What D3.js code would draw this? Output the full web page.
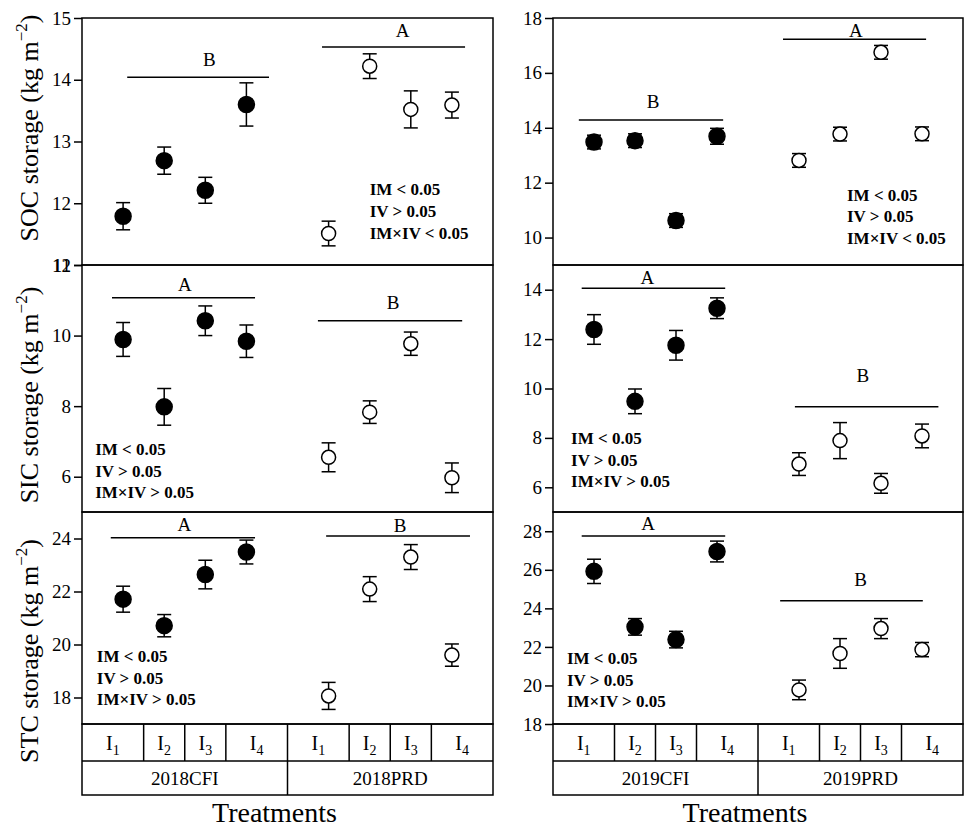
<!DOCTYPE html>
<html>
<head>
<meta charset="utf-8">
<script src="https://cdn.jsdelivr.net/npm/d3@7/dist/d3.min.js"></script>
<style>
  body { margin: 0; background: #fff; }
  svg text { font-family: "Liberation Serif", "Times New Roman", serif; fill: #000; }
</style>
</head>
<body>
<svg id="chart" width="965" height="830"></svg>
<script>
// treatments and groups
const levels = ["1", "2", "3", "4"];
const groups2018 = ["2018CFI", "2018PRD"];
const groups2019 = ["2019CFI", "2019PRD"];

// means and errors, CFI I1-I4 then PRD I1-I4
const soc2018 = [11.79, 12.69, 12.21, 13.60, 11.51, 14.22, 13.52, 13.59];
const soc2018Err = [0.22, 0.22, 0.21, 0.35, 0.20, 0.20, 0.30, 0.21];
const soc2019 = [13.48, 13.53, 10.62, 13.69, 12.81, 13.77, 16.75, 13.78];
const soc2019Err = [0.25, 0.25, 0.25, 0.29, 0.25, 0.25, 0.25, 0.25];

const sic2018 = [9.89, 7.98, 10.42, 9.84, 6.55, 7.83, 9.77, 5.97];
const sic2018Err = [0.48, 0.52, 0.42, 0.46, 0.41, 0.32, 0.33, 0.42];
const sic2019 = [12.39, 9.48, 11.75, 13.25, 6.94, 7.89, 6.16, 8.08];
const sic2019Err = [0.60, 0.50, 0.60, 0.42, 0.46, 0.73, 0.40, 0.48];

const stc2018 = [21.71, 20.71, 22.64, 23.49, 18.06, 22.09, 23.30, 19.60];
const stc2018Err = [0.49, 0.42, 0.54, 0.45, 0.51, 0.47, 0.47, 0.42];
const stc2019 = [25.92, 23.04, 22.38, 26.95, 19.77, 21.66, 22.95, 21.86];
const stc2019Err = [0.63, 0.43, 0.43, 0.54, 0.51, 0.77, 0.52, 0.37];

// axis ticks
const socTicks2018 = [11, 12, 13, 14, 15];
const socTicks2019 = [10, 12, 14, 16, 18];
const sicTicks2018 = [6, 8, 10, 12];
const sicTicks2019 = [6, 8, 10, 12, 14];
const stcTicks2018 = [18, 20, 22, 24];
const stcTicks2019 = [18, 20, 22, 24, 26, 28];

// significance letters
const letters2018 = { soc: ["B", "A"], sic: ["A", "B"], stc: ["A", "B"] };
const letters2019 = { soc: ["B", "A"], sic: ["A", "B"], stc: ["A", "B"] };

// p value statements
const statsSoc = ["IM < 0.05", "IV > 0.05", "IM\u00d7IV < 0.05"];
const statsSic = ["IM < 0.05", "IV > 0.05", "IM\u00d7IV > 0.05"];
const statsStc = ["IM < 0.05", "IV > 0.05", "IM\u00d7IV > 0.05"];

const catPos = [1, 2, 3, 4, 6, 7, 8, 9];

const svg = d3.select("#chart");

const cols = [
  { x0: 82, x1: 493, groups: groups2018 },
  { x0: 553, x1: 963, groups: groups2019 }
];
const rows = [
  { y0: 18, y1: 265, title: "SOC", ty: 128 },
  { y0: 265, y1: 512, title: "SIC", ty: 395 },
  { y0: 512, y1: 724, title: "STC", ty: 651 }
];

// sig: [xStart, xEnd, yLine, xLetter, yLetter]
const panels = [
  { c: 0, r: 0, mean: soc2018, err: soc2018Err, dom: [11, 15], ticks: socTicks2018, lett: letters2018.soc,
    sig: [[1.1, 4.55, 14.04, 3.1, 14.22], [5.84, 9.32, 14.53, 7.8, 14.69]], stats: statsSoc, st: [7.0, 12.13] },
  { c: 1, r: 0, mean: soc2019, err: soc2019Err, dom: [9, 18], ticks: socTicks2019, lett: letters2019.soc,
    sig: [[0.63, 4.15, 14.28, 2.44, 14.73], [5.61, 9.1, 17.23, 7.39, 17.31]], stats: statsSoc, st: [7.17, 11.35] },
  { c: 0, r: 1, mean: sic2018, err: sic2018Err, dom: [5, 12], ticks: sicTicks2018, lett: letters2018.sic,
    sig: [[0.73, 4.21, 11.07, 2.5, 11.27], [5.74, 9.25, 10.42, 7.57, 10.75]], stats: statsSic, st: [0.32, 6.62] },
  { c: 1, r: 1, mean: sic2019, err: sic2019Err, dom: [5, 15], ticks: sicTicks2019, lett: letters2019.sic,
    sig: [[0.7, 4.2, 14.06, 2.3, 14.24], [5.9, 9.4, 9.26, 7.56, 10.26]], stats: statsSic, st: [0.44, 7.75] },
  { c: 0, r: 2, mean: stc2018, err: stc2018Err, dom: [17, 25], ticks: stcTicks2018, lett: letters2018.stc,
    sig: [[0.7, 4.21, 24.03, 2.49, 24.28], [5.94, 9.44, 24.09, 7.74, 24.26]], stats: statsStc, st: [0.36, 19.34] },
  { c: 1, r: 2, mean: stc2019, err: stc2019Err, dom: [18, 29], ticks: stcTicks2019, lett: letters2019.stc,
    sig: [[0.7, 4.2, 27.76, 2.32, 28.07], [5.54, 9.02, 24.39, 7.5, 25.16]], stats: statsStc, st: [0.34, 21.11] }
];

panels.forEach(p => {
  const col = cols[p.c], row = rows[p.r];
  const x = d3.scaleLinear().domain([0, 10]).range([col.x0, col.x1]);
  const y = d3.scaleLinear().domain(p.dom).range([row.y1, row.y0]);
  const g = svg.append("g");

  g.append("rect")
    .attr("x", col.x0).attr("y", row.y0)
    .attr("width", col.x1 - col.x0).attr("height", row.y1 - row.y0)
    .attr("fill", "none").attr("stroke", "#000").attr("stroke-width", 1.5);

  const ax = g.append("g")
    .attr("transform", "translate(" + col.x0 + ",0)")
    .call(d3.axisLeft(y).tickValues(p.ticks).tickSize(8).tickPadding(3).tickFormat(d3.format("d")));
  ax.select(".domain").remove();
  ax.selectAll(".tick line").attr("stroke-width", 1.5);
  ax.selectAll(".tick text").style("font-size", "19px").style("font-family", "'Liberation Serif', serif");

  // significance bars
  p.sig.forEach((s, i) => {
    g.append("line")
      .attr("x1", x(s[0])).attr("x2", x(s[1]))
      .attr("y1", y(s[2])).attr("y2", y(s[2]))
      .attr("stroke", "#000").attr("stroke-width", 1.5);
    g.append("text")
      .attr("x", x(s[3])).attr("y", y(s[4]))
      .attr("text-anchor", "middle")
      .style("font-size", "19px")
      .text(p.lett[i]);
  });

  // error bars
  const eb = g.selectAll(".eb").data(p.mean).enter().append("g");
  eb.append("line")
    .attr("x1", (d, i) => x(catPos[i])).attr("x2", (d, i) => x(catPos[i]))
    .attr("y1", (d, i) => y(d - p.err[i])).attr("y2", (d, i) => y(d + p.err[i]))
    .attr("stroke", "#000").attr("stroke-width", 1.5);
  [-1, 1].forEach(sgn => {
    eb.append("line")
      .attr("x1", (d, i) => x(catPos[i]) - 7).attr("x2", (d, i) => x(catPos[i]) + 7)
      .attr("y1", (d, i) => y(d + sgn * p.err[i])).attr("y2", (d, i) => y(d + sgn * p.err[i]))
      .attr("stroke", "#000").attr("stroke-width", 1.5);
  });

  // points
  g.selectAll(".pt").data(p.mean).enter().append("circle")
    .attr("cx", (d, i) => x(catPos[i]))
    .attr("cy", d => y(d))
    .attr("r", (d, i) => i < 4 ? 8 : 7)
    .attr("fill", (d, i) => i < 4 ? "#000" : "#fff")
    .attr("stroke", "#000").attr("stroke-width", 1.5);

  // stats text
  const st = g.append("text")
    .attr("x", x(p.st[0])).attr("y", y(p.st[1]))
    .style("font-size", "17px").style("font-weight", "bold");
  p.stats.forEach((s, i) => {
    st.append("tspan").attr("x", x(p.st[0])).attr("dy", i === 0 ? 0 : 21.7).text(s);
  });

  // y title, left column only
  if (p.c === 0) {
    const t = svg.append("text")
      .attr("transform", "translate(38," + row.ty + ") rotate(-90)")
      .attr("text-anchor", "middle")
      .style("font-size", "26px");
    t.append("tspan").text(row.title + " storage (kg m");
    t.append("tspan").attr("dy", -11).style("font-size", "17px").text("\u22122");
    t.append("tspan").attr("dy", 11).text(")");
  }
});

// treatment strips
const stripTop = 724, stripMid = 761, stripBot = 795;
const levelCenters = [0.75, 2, 3, 4.25, 5.75, 7, 8, 9.25];
const dividers = [1.5, 2.5, 3.5, 6.5, 7.5, 8.5];
cols.forEach(col => {
  const x = d3.scaleLinear().domain([0, 10]).range([col.x0, col.x1]);
  const g = svg.append("g");
  g.append("rect")
    .attr("x", col.x0).attr("y", stripTop)
    .attr("width", col.x1 - col.x0).attr("height", stripBot - stripTop)
    .attr("fill", "none").attr("stroke", "#000").attr("stroke-width", 1.5);
  g.append("line").attr("x1", col.x0).attr("x2", col.x1)
    .attr("y1", stripMid).attr("y2", stripMid)
    .attr("stroke", "#000").attr("stroke-width", 1.5);
  g.selectAll(".dv").data(dividers).enter().append("line")
    .attr("x1", d => x(d)).attr("x2", d => x(d))
    .attr("y1", stripTop).attr("y2", stripMid)
    .attr("stroke", "#000").attr("stroke-width", 1.5);
  g.append("line").attr("x1", x(5)).attr("x2", x(5))
    .attr("y1", stripTop).attr("y2", stripBot)
    .attr("stroke", "#000").attr("stroke-width", 1.5);

  levelCenters.forEach((c, i) => {
    const t = g.append("text")
      .attr("x", x(c)).attr("y", 750)
      .attr("text-anchor", "middle")
      .style("font-size", "20px");
    t.append("tspan").text("I");
    t.append("tspan").attr("dy", 5).style("font-size", "14px").text(levels[i % 4]);
  });
  col.groups.forEach((gr, i) => {
    g.append("text")
      .attr("x", x(2.5 + i * 5)).attr("y", 785)
      .attr("text-anchor", "middle")
      .style("font-size", "19px")
      .text(gr);
  });

  g.append("text")
    .attr("x", (col.x0 + col.x1) / 2 - 13).attr("y", 822)
    .attr("text-anchor", "middle")
    .style("font-size", "28px")
    .text("Treatments");
});
</script>
</body>
</html>
